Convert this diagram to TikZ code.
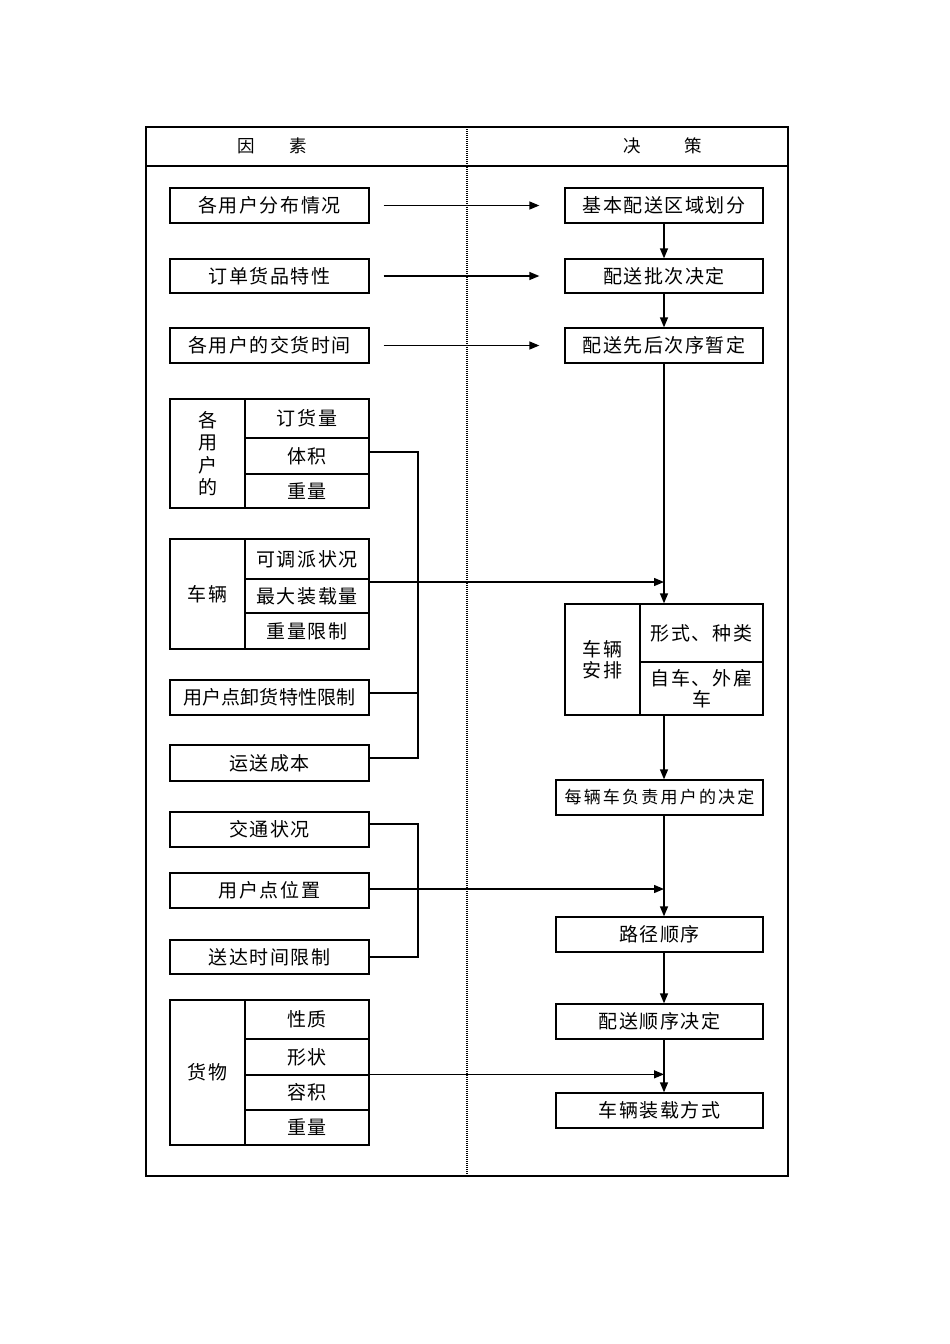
\documentclass[tikz,border=0pt]{standalone}
\usepackage{fontspec}
\newfontfamily\cjk[LetterSpace=8]{Noto Sans CJK SC}
\newfontfamily\cjkn[LetterSpace=1]{Noto Sans CJK SC}
\newfontfamily\cjkw[LetterSpace=13]{Noto Sans CJK SC}
\newfontfamily\cjkh{Noto Sans CJK SC}
\usetikzlibrary{arrows.meta}
\tikzset{
  box/.style={draw, line width=1.3pt, rectangle, inner sep=0pt, font=\cjk\fontsize{19}{22}\selectfont, text=black},
  cell/.style={box},
  narrow/.style={font=\cjkn\fontsize{19}{22}\selectfont},
  hdr/.style={font=\cjkh\fontsize{17.5}{20}\selectfont, inner sep=0pt},
  conn/.style={line width=1.3pt},
  arr/.style={line width=1.3pt, -{Triangle[length=10pt,width=8pt]}},
}
\begin{document}
\begin{tikzpicture}[x=1pt,y=-1pt]
\useasboundingbox (0,0) rectangle (950,1344);
% frame
\draw[line width=1.3pt] (146,127) rectangle (788,1176);
\draw[line width=1.3pt] (146,166) -- (788,166);
\draw[line width=1.5pt, dash pattern=on 1pt off 1pt] (467,127) -- (467,1176);
\node[hdr] (h1) at (272.5,146) {因\hspace{34.5pt}素};
\node[hdr] (h2) at (662.5,146) {决\hspace{43pt}策};

% left column
\node[box, minimum width=199pt, minimum height=35pt] (l1) at (269.5,205.5) {各用户分布情况};
\node[box, minimum width=199pt, minimum height=34pt] (l2) at (269.5,276) {订单货品特性};
\node[box, minimum width=199pt, minimum height=35pt] (l3) at (269.5,345.5) {各用户的交货时间};

\node[cell, minimum width=75pt, minimum height=109pt, align=center, font=\cjk\fontsize{19}{22.6}\selectfont] (ga) at (207.5,453.5) {各\\用\\户\\的};
\node[cell, minimum width=124pt, minimum height=39pt] (ga1) at (307,418.5) {订货量};
\node[cell, minimum width=124pt, minimum height=36pt] (ga2) at (307,456) {体积};
\node[cell, minimum width=124pt, minimum height=34pt] (ga3) at (307,491) {重量};

\node[cell, minimum width=75pt, minimum height=110pt] (gv) at (207.5,594) {车辆};
\node[cell, minimum width=124pt, minimum height=40pt] (gv1) at (307,559) {可调派状况};
\node[cell, minimum width=124pt, minimum height=34pt] (gv2) at (307,596) {最大装载量};
\node[cell, minimum width=124pt, minimum height=36pt] (gv3) at (307,631) {重量限制};

\node[box, narrow, minimum width=199pt, minimum height=35pt] (lu) at (269.5,697.5) {用户点卸货特性限制};
\node[box, minimum width=199pt, minimum height=36pt] (lc) at (269.5,763) {运送成本};
\node[box, minimum width=199pt, minimum height=35pt] (lt) at (269.5,829.5) {交通状况};
\node[box, minimum width=199pt, minimum height=35pt] (lp) at (269.5,890.5) {用户点位置};
\node[box, minimum width=199pt, minimum height=34pt] (ld) at (269.5,957) {送达时间限制};

\node[cell, minimum width=75pt, minimum height=145pt] (gg) at (207.5,1072.5) {货物};
\node[cell, minimum width=124pt, minimum height=39pt] (gg1) at (307,1019.5) {性质};
\node[cell, minimum width=124pt, minimum height=36pt] (gg2) at (307,1057) {形状};
\node[cell, minimum width=124pt, minimum height=35pt] (gg3) at (307,1092.5) {容积};
\node[cell, minimum width=124pt, minimum height=35pt] (gg4) at (307,1127.5) {重量};

% right column
\node[box, minimum width=198pt, minimum height=35pt] (r1) at (664,205.5) {基本配送区域划分};
\node[box, minimum width=198pt, minimum height=34pt] (r2) at (664,276) {配送批次决定};
\node[box, minimum width=198pt, minimum height=35pt] (r3) at (664,345.5) {配送先后次序暂定};

\node[cell, minimum width=75pt, minimum height=111pt, align=center, font=\cjk\fontsize{19}{20.5}\selectfont] (rc) at (602.5,659.5) {车辆\\安排};
\node[cell, minimum width=123pt, minimum height=58pt] (rc1) at (701.5,633) {形式、种类};
\node[cell, minimum width=123pt, minimum height=53pt, align=center, font=\cjk\fontsize{19}{20.5}\selectfont] (rc2) at (701.5,688.5) {自车、外雇\\车};

\node[box, minimum width=207pt, minimum height=35pt, font=\cjkw\fontsize{17}{20}\selectfont] (re) at (659.5,797.5) {每辆车负责用户的决定};
\node[box, minimum width=207pt, minimum height=35pt] (rp) at (659.5,934.5) {路径顺序};
\node[box, minimum width=207pt, minimum height=35pt] (ro) at (659.5,1021.5) {配送顺序决定};
\node[box, minimum width=207pt, minimum height=35pt] (rz) at (659.5,1110.5) {车辆装载方式};

% junction coordinates
\coordinate (vx) at (664,0);
\coordinate (ja) at (418,452);
\coordinate (jb) at (418,758);
\coordinate (jc) at (418,824);
\coordinate (jd) at (418,957);

% top horizontal arrows
\draw[arr] ([xshift=14pt]l1.east) -- ([xshift=-25pt]r1.west);
\draw[arr] ([xshift=14pt]l2.east) -- ([xshift=-25pt]r2.west);
\draw[arr] ([xshift=14pt]l3.east) -- ([xshift=-25pt]r3.west);

% right vertical chain
\draw[arr] (r1.south -| vx) -- (r2.north -| vx);
\draw[arr] (r2.south -| vx) -- (r3.north -| vx);
\draw[arr] (r3.south -| vx) -- (rc1.north -| vx);
\draw[arr] (rc2.south -| vx) -- (re.north -| vx);
\draw[arr] (re.south -| vx) -- (rp.north -| vx);
\draw[arr] (rp.south -| vx) -- (ro.north -| vx);
\draw[arr] (ro.south -| vx) -- (rz.north -| vx);

% bracket 1
\draw[conn] (ga2.east |- ja) -- (ja) -- (jb) -- (lc.east |- jb);
\draw[conn] ([yshift=4.5pt]lu.east) -- ([yshift=4.5pt]lu.east -| ja);
\draw[arr] ([yshift=14pt]gv2.east) -- ([yshift=14pt]gv2.east -| vx);

% bracket 2
\draw[conn] (lt.east |- jc) -- (jc) -- (jd) -- (ld.east |- jd);
\draw[arr] ([yshift=1.5pt]lp.east) -- ([yshift=1.5pt]lp.east -| vx);

% goods arrow
\draw[arr] (gg.east |- gg3.north) -- (gg3.north -| vx);
\end{tikzpicture}
\end{document}
